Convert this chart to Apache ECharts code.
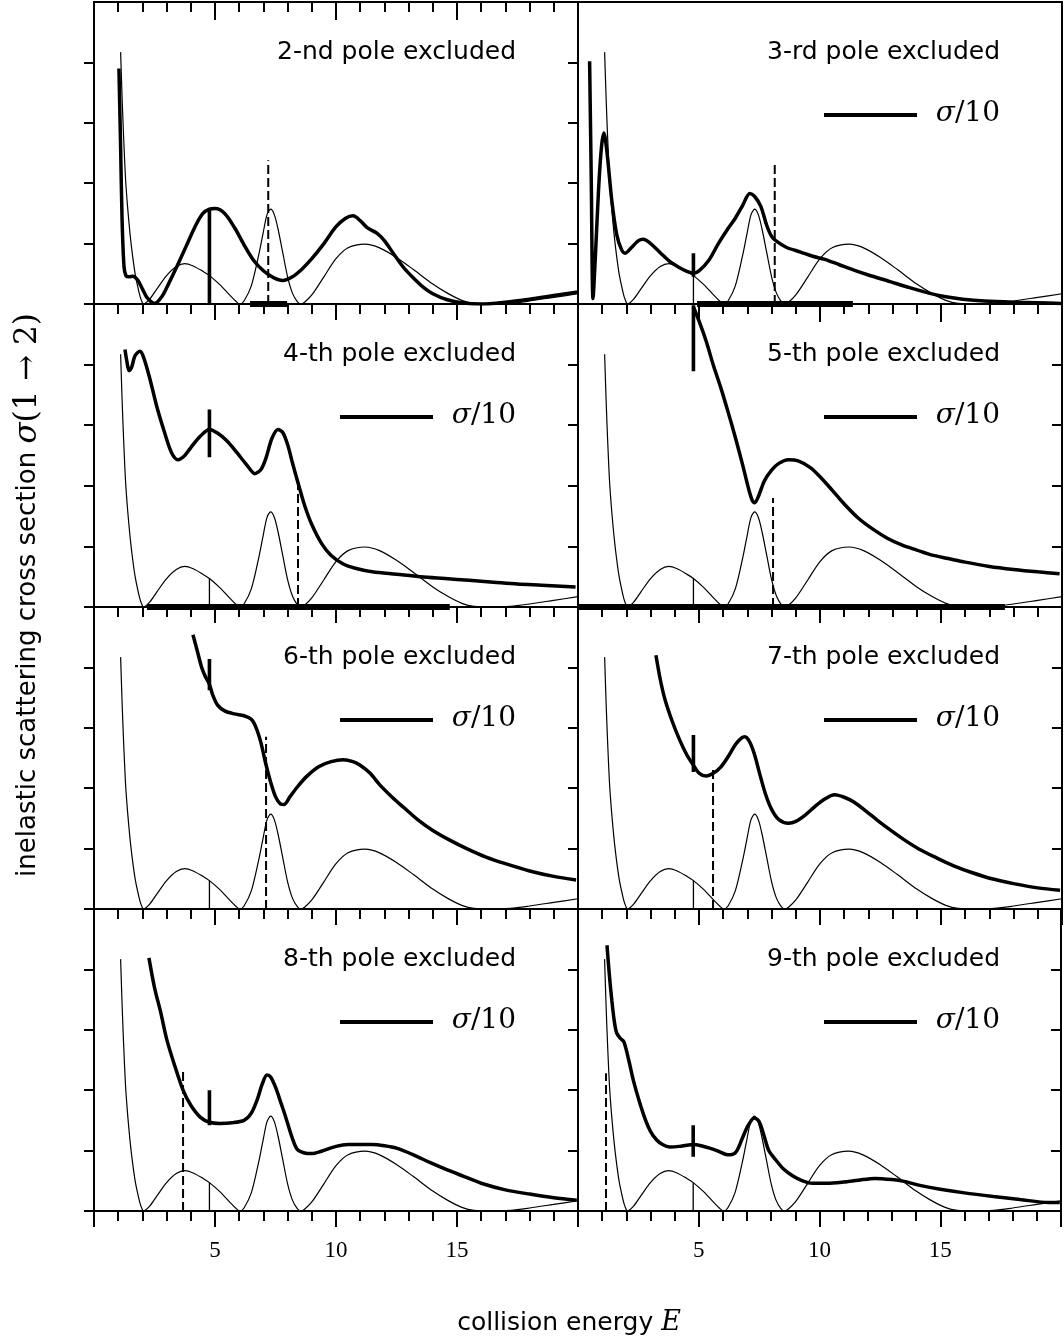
<!DOCTYPE html>
<html><head><meta charset="utf-8">
<script src="https://cdn.jsdelivr.net/npm/echarts@6/dist/echarts.min.js"></script>
<style>html,body{margin:0;padding:0;background:#fff;}#c{width:1064px;height:1341px;}</style>
</head><body><div id="c"></div>
<script>
// ---------- data ----------
const panelTitles = ['2-nd pole excluded','3-rd pole excluded','4-th pole excluded','5-th pole excluded',
  '6-th pole excluded','7-th pole excluded','8-th pole excluded','9-th pole excluded'];
const xTickLabels = {5:'5', 10:'10', 15:'15'};

// full cross section (thin curve, same in every panel)
const fullSigma = [[1.1,4.17],[1.15,3.55],[1.2,3.0],[1.25,2.52],[1.3,2.1],[1.35,1.8],[1.4,1.55],[1.5,1.12],[1.6,0.78],[1.7,0.5],
  [1.8,0.3],[1.9,0.13],[2.0,0.02],[2.04,0],[2.3,0.08],[2.6,0.25],[3.0,0.47],[3.4,0.62],[3.75,0.67],[4.1,0.63],
  [4.5,0.54],[4.77,0.47],[5.2,0.32],[5.6,0.15],[5.85,0.05],[6.03,0],[6.2,0.05],[6.5,0.3],[6.8,0.8],[7.0,1.2],
  [7.15,1.48],[7.3,1.57],[7.45,1.48],[7.6,1.25],[7.8,0.85],[8.0,0.45],[8.2,0.18],[8.4,0.04],[8.55,0],[8.7,0.03],
  [9.0,0.15],[9.5,0.45],[10.0,0.75],[10.5,0.93],[11.2,0.99],[11.8,0.93],[12.5,0.77],[13.2,0.57],[14.0,0.33],
  [14.6,0.18],[15.2,0.06],[15.7,0.01],[16.5,0],[17.2,0.01],[18.0,0.05],[19.0,0.11],[20.0,0.17]];
const thresholdMark = [[4.77,0],[4.77,0.47]];

// pole-excluded cross sections (thick curves)
const excl2 = [[1.03,3.9],[1.1,2.6],[1.16,1.4],[1.24,0.62],[1.32,0.47],[1.45,0.45],[1.6,0.46],[1.8,0.4],[2.0,0.25],[2.2,0.1],
  [2.5,0.01],[2.8,0.12],[3.1,0.35],[3.4,0.6],[3.8,0.95],[4.2,1.3],[4.5,1.5],[4.77,1.57],[5.0,1.58],[5.4,1.5],[5.8,1.27],
  [6.2,0.98],[6.6,0.72],[7.0,0.55],[7.4,0.44],[7.8,0.39],[8.2,0.45],[8.6,0.58],[9.0,0.75],[9.5,1.0],[10.0,1.28],
  [10.4,1.42],[10.7,1.46],[11.0,1.38],[11.3,1.26],[11.7,1.17],[12.0,1.05],[12.4,0.82],[12.8,0.6],[13.2,0.43],
  [13.6,0.28],[14.0,0.17],[14.6,0.07],[15.2,0.02],[16.0,0.0],[17.0,0.03],[18.0,0.08],[19.0,0.14],[20.0,0.2]];
const excl3 = [[0.48,4.02],[0.55,2.0],[0.62,0.09],[0.72,0.8],[0.85,1.9],[0.97,2.6],[1.07,2.83],[1.2,2.5],[1.4,1.7],
  [1.6,1.15],[1.8,0.9],[1.95,0.84],[2.2,0.93],[2.5,1.05],[2.7,1.07],[3.0,1.0],[3.4,0.85],[3.8,0.7],[4.2,0.6],[4.5,0.54],
  [4.77,0.51],[5.0,0.55],[5.4,0.72],[5.8,1.0],[6.2,1.25],[6.5,1.42],[6.8,1.63],[7.1,1.83],[7.3,1.78],[7.55,1.62],
  [7.8,1.3],[8.0,1.12],[8.2,1.04],[8.6,0.94],[9.2,0.86],[9.7,0.79],[10.2,0.74],[10.8,0.65],[11.4,0.56],[12.0,0.48],
  [12.9,0.37],[13.7,0.27],[14.5,0.18],[15.2,0.12],[15.9,0.08],[16.8,0.05],[18.0,0.03],[19.0,0.02],[20.0,0.01]];
const excl4 = [[1.28,4.25],[1.36,4.05],[1.45,3.9],[1.55,3.95],[1.7,4.15],[1.9,4.22],[2.05,4.12],[2.3,3.78],[2.6,3.3],
  [2.9,2.9],[3.2,2.55],[3.47,2.43],[3.75,2.5],[4.0,2.63],[4.4,2.82],[4.77,2.93],[5.1,2.87],[5.5,2.74],[5.9,2.55],
  [6.3,2.35],[6.65,2.2],[6.9,2.27],[7.1,2.45],[7.35,2.78],[7.6,2.93],[7.8,2.88],[8.0,2.68],[8.2,2.38],[8.45,2.02],
  [8.7,1.68],[9.0,1.36],[9.4,1.05],[9.8,0.85],[10.3,0.71],[10.8,0.64],[11.5,0.58],[12.5,0.54],[13.5,0.5],[14.5,0.47],
  [15.5,0.44],[16.5,0.41],[17.5,0.38],[18.5,0.36],[19.9,0.33]];
const excl5 = [[4.77,4.95],[5.0,4.72],[5.3,4.38],[5.6,3.98],[5.9,3.62],[6.2,3.22],[6.5,2.8],[6.8,2.35],[7.05,1.95],
  [7.2,1.76],[7.3,1.72],[7.45,1.82],[7.7,2.08],[8.0,2.26],[8.3,2.37],[8.7,2.43],[9.1,2.41],[9.6,2.3],[10.0,2.15],
  [10.5,1.93],[11.0,1.7],[11.6,1.46],[12.2,1.28],[12.8,1.13],[13.4,1.02],[14.0,0.94],[14.6,0.86],[15.3,0.8],
  [16.0,0.74],[17.0,0.67],[18.0,0.62],[19.0,0.58],[19.9,0.55]];
const excl6 = [[4.09,4.54],[4.25,4.3],[4.45,4.0],[4.6,3.85],[4.77,3.72],[4.9,3.55],[5.1,3.38],[5.4,3.28],[5.8,3.23],
  [6.2,3.2],[6.5,3.14],[6.7,3.0],[6.9,2.75],[7.1,2.4],[7.3,2.1],[7.5,1.86],[7.7,1.74],[7.85,1.73],[8.1,1.86],
  [8.4,2.02],[8.8,2.2],[9.3,2.36],[9.8,2.44],[10.3,2.47],[10.7,2.44],[11.0,2.38],[11.4,2.25],[11.8,2.06],[12.3,1.86],
  [12.8,1.68],[13.4,1.47],[14.0,1.3],[14.7,1.14],[15.4,1.0],[16.2,0.86],[17.0,0.75],[18.0,0.63],[19.0,0.54],[19.92,0.48]];
const excl7 = [[3.22,4.2],[3.4,3.8],[3.6,3.46],[3.9,3.1],[4.2,2.8],[4.5,2.55],[4.77,2.38],[5.0,2.25],[5.3,2.2],
  [5.6,2.25],[5.9,2.35],[6.2,2.52],[6.5,2.72],[6.75,2.83],[6.9,2.85],[7.1,2.76],[7.3,2.55],[7.5,2.25],[7.75,1.9],
  [8.0,1.65],[8.3,1.48],[8.7,1.42],[9.0,1.45],[9.4,1.56],[9.8,1.7],[10.2,1.82],[10.6,1.89],[11.0,1.85],[11.4,1.77],
  [11.9,1.62],[12.4,1.46],[12.9,1.31],[13.5,1.14],[14.1,0.99],[14.8,0.85],[15.5,0.72],[16.3,0.6],[17.1,0.5],
  [18.0,0.42],[19.0,0.35],[19.92,0.31]];
const excl8 = [[2.27,4.19],[2.5,3.7],[2.75,3.3],[3.0,2.85],[3.3,2.45],[3.68,2.0],[4.0,1.75],[4.4,1.55],[4.77,1.47],
  [5.2,1.45],[5.7,1.46],[6.2,1.5],[6.5,1.62],[6.75,1.85],[6.95,2.1],[7.15,2.25],[7.3,2.22],[7.5,2.05],[7.7,1.82],
  [7.9,1.58],[8.2,1.2],[8.4,1.02],[8.7,0.96],[9.0,0.95],[9.4,0.99],[10.0,1.07],[10.5,1.1],[11.0,1.1],[11.5,1.1],
  [12.0,1.08],[12.5,1.04],[13.2,0.93],[13.9,0.8],[14.6,0.68],[15.3,0.57],[16.0,0.46],[17.0,0.35],[18.0,0.28],
  [19.0,0.22],[19.95,0.18]];
const excl9 = [[1.2,4.4],[1.3,3.9],[1.4,3.49],[1.5,3.15],[1.6,2.95],[1.75,2.86],[1.9,2.8],[2.1,2.5],[2.3,2.15],
  [2.55,1.8],[2.8,1.5],[3.0,1.32],[3.25,1.18],[3.5,1.1],[3.8,1.06],[4.2,1.07],[4.5,1.09],[4.77,1.1],[5.1,1.08],
  [5.45,1.04],[5.8,0.99],[6.1,0.94],[6.3,0.93],[6.55,0.98],[6.8,1.2],[7.05,1.42],[7.3,1.54],[7.5,1.48],[7.7,1.25],
  [7.9,1.0],[8.2,0.84],[8.5,0.7],[8.9,0.58],[9.3,0.5],[9.7,0.46],[10.3,0.46],[11.0,0.48],[11.6,0.51],[12.3,0.54],
  [13.0,0.52],[13.5,0.49],[14.2,0.42],[15.0,0.36],[16.0,0.3],[17.2,0.24],[18.3,0.19],[19.5,0.14],[19.95,0.14]];
const exclCurves = [excl2, excl3, excl4, excl5, excl6, excl7, excl8, excl9];

// vertical jump of each thick curve at the threshold E = 4.77  [bottom, top]
const cuspE = 4.77;
const cuspRange = [[0,1.57],[0.45,0.84],[2.47,3.26],[3.89,4.98],[3.62,4.14],[2.27,2.88],[1.42,2.0],[0.9,1.42]];
// excluded pole position (dashed) and its height
const poleE = [7.2, 8.13, 8.43, 8.06, 7.11, 5.58, 3.68, 1.16];
const poleTop = [2.38, 2.32, 2.04, 1.8, 2.85, 2.33, 2.3, 2.28];
// pole width bars on the energy axis
const poleBars = [[6.45,7.98],[4.92,11.36],[2.19,14.7],[0,17.64],null,null,null,null];

// ---------- layout ----------
const colLeft = [94, 578], W = 484;
const rowTop = [2, 304, 607, 909], rowH = [302, 303, 302, 302];

const grids = [], xAxes = [], yAxes = [], series = [], graphics = [];
const tickStyle = {color:'#000', width:2};
for (let p = 0; p < 8; p++) {
  const r = Math.floor(p/2), c = p % 2;
  grids.push({left: colLeft[c], top: rowTop[r], width: W, height: rowH[r], show: true,
    borderColor: '#000', borderWidth: 2, backgroundColor: 'transparent', containLabel: false});
  const xi = xAxes.length;
  xAxes.push({type:'value', gridIndex:p, position:'bottom', min:0, max:20, interval:5,
    axisLine:{show:false}, splitLine:{show:false},
    axisTick:{show:true, inside:false, length:16, lineStyle:tickStyle},
    minorTick:{show:true, splitNumber:5, length:10, lineStyle:tickStyle},
    axisLabel:{show: r === 3, margin: 28, color:'#000', fontFamily:'"Liberation Serif", serif', fontSize:23,
      formatter: v => xTickLabels[v] || ''}});
  if (r === 0) {
    xAxes.push({type:'value', gridIndex:p, position:'top', min:0, max:20, interval:5,
      axisLine:{show:false}, splitLine:{show:false}, axisLabel:{show:false},
      axisTick:{show:true, inside:true, length:18, lineStyle:tickStyle},
      minorTick:{show:true, splitNumber:5, length:10, lineStyle:tickStyle}});
  }
  const yi = yAxes.length;
  yAxes.push({type:'value', gridIndex:p, position:'left', min:0, max:5, interval:1,
    axisLine:{show:false}, splitLine:{show:false}, axisLabel:{show:false},
    axisTick:{show:true, inside:false, length:10, lineStyle:tickStyle, customValues:[0,1,2,3,4]}});
  if (c === 1) {
    yAxes.push({type:'value', gridIndex:p, position:'right', min:0, max:5, interval:1,
      axisLine:{show:false}, splitLine:{show:false}, axisLabel:{show:false},
      axisTick:{show:true, inside:true, length:10, lineStyle:tickStyle, customValues:[1,2,3,4]}});
  }
  const base = {type:'line', xAxisIndex:xi, yAxisIndex:yi, symbol:'none', silent:true, animation:false};
  series.push(Object.assign({}, base, {data: fullSigma, smooth:0.3, lineStyle:{color:'#000', width:1.2}}));
  series.push(Object.assign({}, base, {data: thresholdMark, lineStyle:{color:'#000', width:1.3}}));
  series.push(Object.assign({}, base, {data: exclCurves[p], smooth:0.3, lineStyle:{color:'#000', width:3.5}}));
  series.push(Object.assign({}, base, {data: [[cuspE, cuspRange[p][0]],[cuspE, cuspRange[p][1]]],
    lineStyle:{color:'#000', width:3.6}}));
  series.push(Object.assign({}, base, {data: [[poleE[p],0],[poleE[p],poleTop[p]]],
    lineStyle:{color:'#000', width:2, type:[9,4]}}));
  if (poleBars[p]) {
    series.push(Object.assign({}, base, {data: [[poleBars[p][0],0],[poleBars[p][1],0]], clip:false,
      lineStyle:{color:'#000', width:6, cap:'butt'}}));
  }
  // panel title
  graphics.push({type:'text', x: colLeft[c] + W - 62, y: rowTop[r] + 50, silent:true,
    style:{text: panelTitles[p], font:'25px "DejaVu Sans"', fill:'#000', align:'right', verticalAlign:'middle',
      textAlign:'right', textVerticalAlign:'middle'}});
  if (p > 0) {
    graphics.push({type:'line', silent:true, shape:{x1: colLeft[c]+246, y1: rowTop[r]+113, x2: colLeft[c]+339, y2: rowTop[r]+113},
      style:{stroke:'#000', lineWidth:3.8}});
    graphics.push({type:'text', x: colLeft[c] + W - 62, y: rowTop[r] + 112, silent:true,
      style:{text:'{i|σ}{n|/10}', fill:'#000', font:'28px "DejaVu Serif"', align:'right', verticalAlign:'middle',
        textAlign:'right', textVerticalAlign:'middle',
        rich:{i:{fontFamily:'DejaVu Serif', fontStyle:'italic', fontSize:28, fill:'#000'},
              n:{fontFamily:'DejaVu Serif', fontSize:28, fill:'#000'}}}});
  }
}
// axis names
graphics.push({type:'text', x:569, y:1323, silent:true,
  style:{text:'{a|collision energy }{m|E}', fill:'#000', font:'25px "DejaVu Sans"', align:'center', verticalAlign:'middle',
    textAlign:'center', textVerticalAlign:'middle',
    rich:{a:{fontFamily:'DejaVu Sans', fontSize:25, fill:'#000'}, m:{fontFamily:'DejaVu Serif', fontStyle:'italic', fontSize:27, fill:'#000'}}}});
graphics.push({type:'text', x:28, y:595, rotation: Math.PI/2, silent:true,
  style:{text:'{a|inelastic scattering cross section }{m|σ}{b|(1 → 2)}', fill:'#000', font:'26px "DejaVu Sans"',
    align:'center', verticalAlign:'middle', textAlign:'center', textVerticalAlign:'middle',
    rich:{a:{fontFamily:'DejaVu Sans', fontSize:26, fill:'#000'},
          m:{fontFamily:'DejaVu Serif', fontStyle:'italic', fontSize:31, fill:'#000'},
          b:{fontFamily:'DejaVu Serif', fontSize:31, fill:'#000'}}}});

const chart = echarts.init(document.getElementById('c'), null, {renderer:'canvas'});
chart.setOption({animation:false, backgroundColor:'#fff', grid:grids, xAxis:xAxes, yAxis:yAxes, series:series, graphic:graphics});
</script></body></html>
